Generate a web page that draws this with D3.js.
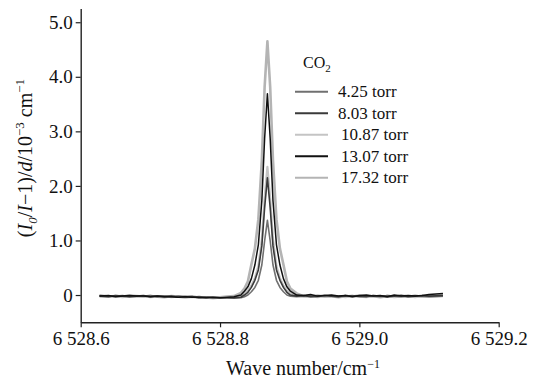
<!DOCTYPE html>
<html>
<head>
<meta charset="utf-8">
<script src="https://cdn.jsdelivr.net/npm/d3@7"></script>
<style>
  body { margin: 0; background: #fff; }
  svg { display: block; }
  text { font-family: "Liberation Serif", serif; fill: #111; }
</style>
</head>
<body>
<script>
// Wave number grid (cm^-1)
const waveNumber = [
  6528.627, 6528.64, 6528.65, 6528.66, 6528.67, 6528.68, 6528.69, 6528.70, 6528.71, 6528.72,
  6528.73, 6528.74, 6528.75, 6528.76, 6528.77, 6528.78, 6528.79, 6528.80, 6528.81, 6528.82, 6528.83,
  6528.835, 6528.840, 6528.845, 6528.850, 6528.855, 6528.860, 6528.864, 6528.868, 6528.872,
  6528.876, 6528.881, 6528.886, 6528.891, 6528.896, 6528.901,
  6528.91, 6528.92, 6528.93, 6528.94, 6528.95, 6528.96, 6528.97, 6528.98, 6528.99, 6529.00,
  6529.01, 6529.02, 6529.03, 6529.04, 6529.05, 6529.06, 6529.07, 6529.08, 6529.09, 6529.10, 6529.12
];

// absorption values, 10^-3 cm^-1
const torr17_32 = [
  -0.01, -0.03, -0.02, -0.03, -0.01, -0.02, -0.03, -0.02, -0.03, -0.04,
  -0.02, -0.03, -0.04, -0.03, -0.05, -0.04, -0.05, -0.04, -0.03, -0.02, 0.04,
  0.12, 0.25, 0.56, 0.85, 1.39, 2.47, 3.81, 4.65, 3.81, 2.47, 1.39, 0.85, 0.56, 0.25, 0.12,
  0.03, -0.02, -0.03, -0.01, -0.03, -0.02, -0.04, -0.02, -0.03, -0.01,
  -0.03, -0.02, -0.04, -0.02, -0.03, -0.01, -0.03, -0.02, -0.03, -0.02, -0.01
];
const torr13_07 = [
  -0.02, -0.01, -0.03, -0.02, -0.01, -0.02, -0.02, -0.03, -0.02, -0.03,
  -0.03, -0.04, -0.03, -0.04, -0.04, -0.05, -0.04, -0.05, -0.04, -0.03, 0.00,
  0.07, 0.15, 0.30, 0.55, 0.92, 1.73, 2.87, 3.69, 2.87, 1.73, 0.92, 0.55, 0.30, 0.15, 0.07,
  0.00, -0.01, 0.01, -0.02, -0.01, 0.00, -0.02, -0.01, -0.03, -0.01,
  0.00, -0.02, -0.01, -0.03, 0.00, -0.02, -0.01, -0.02, -0.01, 0.01, 0.03
];
const torr10_87 = [
  -0.03, -0.02, -0.02, -0.04, -0.02, -0.03, -0.02, -0.04, -0.03, -0.02,
  -0.04, -0.03, -0.05, -0.03, -0.04, -0.05, -0.06, -0.05, -0.04, -0.04, -0.02,
  0.03, 0.08, 0.17, 0.31, 0.53, 1.02, 1.77, 2.35, 1.77, 1.02, 0.53, 0.31, 0.17, 0.08, 0.03,
  -0.01, -0.03, -0.02, -0.04, -0.02, -0.03, -0.02, -0.04, -0.02, -0.03,
  -0.04, -0.02, -0.03, -0.02, -0.04, -0.03, -0.02, -0.04, -0.02, -0.03, -0.02
];
const torr8_03 = [
  -0.02, -0.03, -0.01, -0.02, -0.03, -0.02, -0.01, -0.03, -0.02, -0.03,
  -0.02, -0.04, -0.03, -0.03, -0.05, -0.04, -0.05, -0.05, -0.05, -0.05, -0.04,
  0.00, 0.05, 0.14, 0.27, 0.46, 0.90, 1.60, 2.15, 1.60, 0.90, 0.46, 0.27, 0.14, 0.05, 0.00,
  -0.02, -0.01, -0.03, -0.02, -0.01, -0.02, -0.03, -0.01, -0.02, -0.02,
  -0.03, -0.01, -0.02, -0.03, -0.02, -0.01, -0.03, -0.02, -0.01, -0.02, -0.01
];
const torr4_25 = [
  -0.01, -0.02, -0.02, -0.01, -0.03, -0.02, -0.02, -0.01, -0.03, -0.02,
  -0.03, -0.02, -0.03, -0.04, -0.03, -0.04, -0.04, -0.05, -0.05, -0.06, -0.05,
  -0.03, 0.00, 0.06, 0.14, 0.27, 0.55, 0.99, 1.37, 0.99, 0.55, 0.27, 0.14, 0.06, 0.00, -0.02,
  -0.03, -0.02, -0.02, -0.03, -0.01, -0.02, -0.03, -0.02, -0.01, -0.03,
  -0.02, -0.02, -0.03, -0.01, -0.02, -0.03, -0.02, -0.01, -0.02, -0.03, -0.02
];

const legendLabels = ["4.25 torr", "8.03 torr", "10.87 torr", "13.07 torr", "17.32 torr"];
const legendColors = ["#707070", "#3a3a3a", "#c4c4c4", "#111111", "#b4b4b4"];

const xTicks = [6528.6, 6528.8, 6529.0, 6529.2];
const xTickLabels = ["6 528.6", "6 528.8", "6 529.0", "6 529.2"];
const yTicks = [0, 1, 2, 3, 4, 5];
const yTickLabels = ["0", "1.0", "2.0", "3.0", "4.0", "5.0"];

const width = 537, height = 381;

const svg = d3.select("body").append("svg")
  .attr("width", width)
  .attr("height", height);

const x = d3.scaleLinear().domain([6528.6, 6529.2]).range([80.7, 498.7]);
const y = d3.scaleLinear().domain([-0.5, 5.25]).range([322.3, 8.6]);

// series, light ones underneath
const series = [
  { values: torr17_32, color: legendColors[4], w: 2.6 },
  { values: torr10_87, color: legendColors[2], w: 2.2 },
  { values: torr4_25, color: legendColors[0], w: 1.6 },
  { values: torr8_03, color: legendColors[1], w: 1.6 },
  { values: torr13_07, color: legendColors[3], w: 1.5 }
];

const line = d3.line()
  .x((d, i) => x(waveNumber[i]))
  .y(d => y(d));

svg.append("g")
  .selectAll("path")
  .data(series)
  .join("path")
  .attr("fill", "none")
  .attr("stroke", d => d.color)
  .attr("stroke-width", d => d.w)
  .attr("stroke-linejoin", "round")
  .attr("d", d => line(d.values));

// axes
const xAxis = svg.append("g")
  .attr("transform", `translate(0,${y(-0.5)})`)
  .call(d3.axisBottom(x).tickValues(xTicks)
    .tickFormat((d, i) => xTickLabels[i])
    .tickSize(5).tickPadding(4).tickSizeOuter(0));

const yAxis = svg.append("g")
  .attr("transform", `translate(${x(6528.6)},0)`)
  .call(d3.axisLeft(y).tickValues(yTicks)
    .tickFormat((d, i) => yTickLabels[i])
    .tickSize(5).tickPadding(3).tickSizeOuter(0));

[xAxis, yAxis].forEach(g => {
  g.select(".domain").attr("stroke", "#222").attr("stroke-width", 1.4);
  g.selectAll(".tick line").attr("stroke", "#222").attr("stroke-width", 1.2);
  g.selectAll(".tick text")
    .attr("font-family", "Liberation Serif, serif")
    .attr("font-size", 19)
    .attr("fill", "#111");
});

// axis titles
const xTitle = svg.append("text")
  .attr("x", 303).attr("y", 375)
  .attr("text-anchor", "middle")
  .attr("font-size", 20);
xTitle.append("tspan").text("Wave number/cm");
xTitle.append("tspan").attr("dy", -7).attr("font-size", 12).text("−1");

const yTitle = svg.append("text")
  .attr("transform", "translate(32,158) rotate(-90)")
  .attr("text-anchor", "middle")
  .attr("font-size", 20);
yTitle.append("tspan").text("(");
yTitle.append("tspan").attr("font-style", "italic").text("I");
yTitle.append("tspan").attr("dy", 5).attr("font-size", 13).attr("font-style", "italic").text("0");
yTitle.append("tspan").attr("dy", -5).text("/");
yTitle.append("tspan").attr("font-style", "italic").text("I");
yTitle.append("tspan").text("−1)/");
yTitle.append("tspan").attr("font-style", "italic").text("d");
yTitle.append("tspan").text("/10");
yTitle.append("tspan").attr("dy", -8).attr("font-size", 13).text("−3");
yTitle.append("tspan").attr("dy", 8).text(" cm");
yTitle.append("tspan").attr("dy", -8).attr("font-size", 13).text("−1");

// legend
const co2 = svg.append("text").attr("x", 303).attr("y", 68).attr("font-size", 16);
co2.append("tspan").text("CO");
co2.append("tspan").attr("dy", 4).attr("font-size", 11).text("2");

const legend = svg.append("g")
  .selectAll("g")
  .data(legendLabels)
  .join("g")
  .attr("transform", (d, i) => `translate(295,${91.7 + i * 21.5})`);

legend.append("line")
  .attr("x1", 0).attr("x2", 33)
  .attr("stroke", (d, i) => legendColors[i])
  .attr("stroke-width", 2);

legend.append("text")
  .attr("x", (d, i) => i < 2 ? 43 : 46)
  .attr("y", 5.5)
  .attr("font-size", 17)
  .text(d => d);
</script>
</body>
</html>
